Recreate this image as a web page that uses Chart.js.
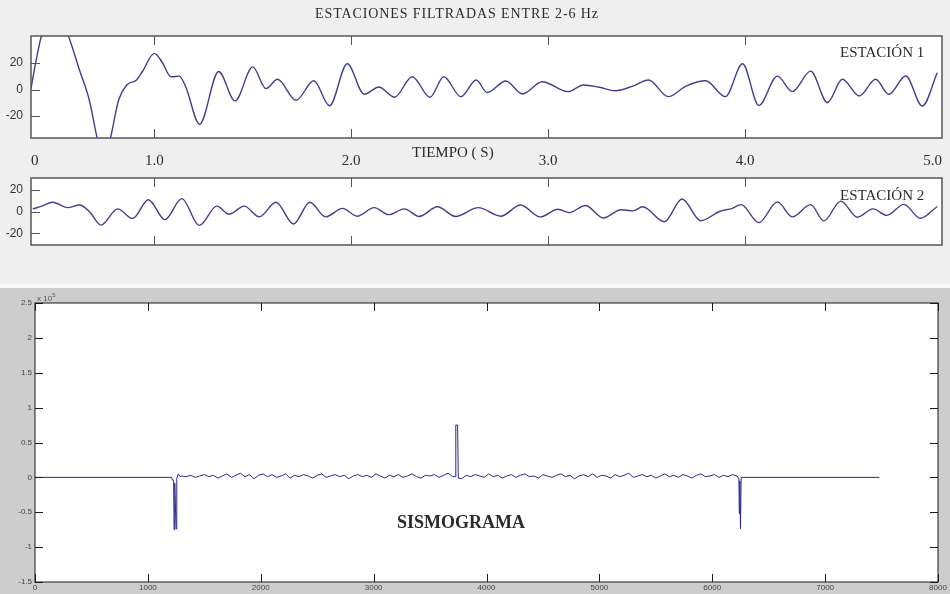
<!DOCTYPE html>
<html>
<head>
<meta charset="utf-8">
<script src="https://cdn.jsdelivr.net/npm/chart.js@4.4.1/dist/chart.umd.min.js"></script>
<style>
  html, body { margin: 0; padding: 0; }
  body { width: 950px; height: 594px; position: relative; overflow: hidden; background: #efefef; }
  canvas { position: absolute; left: 0; }
  .txt { position: absolute; white-space: nowrap; color: #2b2b2b; font-family: "Liberation Serif", "Times New Roman", serif; line-height: 1; z-index: 5; }
  #gap { position: absolute; left: 0; top: 284px; width: 950px; height: 4px; background: #fafafa; }
  #matlab { position: absolute; left: 0; top: 288px; width: 950px; height: 306px; background: #cdcdcd; }
</style>
</head>
<body>
<div id="gap"></div>
<div id="matlab"></div>
<canvas id="est1" width="950" height="176" style="top:0"></canvas>
<canvas id="est2" width="950" height="120" style="top:170px"></canvas>
<canvas id="sismo" width="950" height="306" style="top:288px"></canvas>

<div class="txt" style="left:315px; top:7px; font-size:14px; letter-spacing:0.9px;">ESTACIONES FILTRADAS ENTRE 2-6 Hz</div>
<div class="txt" style="left:840px; top:45px; font-size:15px;">ESTACIÓN 1</div>
<div class="txt" style="left:412px; top:145px; font-size:15px;">TIEMPO ( S)</div>
<div class="txt" style="left:840px; top:188px; font-size:15px;">ESTACIÓN 2</div>
<div class="txt" style="left:397px; top:513px; font-size:18px; font-weight:bold;">SISMOGRAMA</div>
<div class="txt" style="left:37px; top:292px; font-size:8px; color:#555; font-family:'Liberation Sans', sans-serif;">x 10<sup style="font-size:6px">5</sup></div>

<script>
// station 1, filtered 2-6 Hz (time in s, amplitude)
const est1Time = [0.374, 0.40, 0.43, 0.50, 0.56, 0.62, 0.67, 0.71, 0.745, 0.777, 0.82, 0.86, 0.91, 0.94,
  1.0, 1.04, 1.085, 1.127, 1.16, 1.23, 1.327, 1.41, 1.5, 1.567, 1.626, 1.72, 1.81, 1.89, 1.98,
  2.066, 2.14, 2.22, 2.31, 2.40, 2.47, 2.557, 2.635, 2.69, 2.785, 2.87, 2.97, 3.1, 3.18, 3.26,
  3.34, 3.43, 3.51, 3.61, 3.70, 3.80, 3.90, 3.987, 4.07, 4.164, 4.24, 4.333, 4.418, 4.494,
  4.58, 4.663, 4.73, 4.816, 4.90, 4.976];
const est1Amp = [0.7, 22, 42, 60, 42, 14.8, -7.9, -36.6, -55, -37, -7.5, 3.4, 7.2, 13.6,
  27.3, 20.6, 9.6, 10.1, 1.9, -26.2, 13.6, -8.6, 17.1, 0.7, 7.7, -8.1, 6.6, -12.2, 19.4,
  -3.6, 1.9, -5.8, 9.6, -5.8, 9.6, -5.4, 7.2, -2.3, 6.4, -3.4, 5.9, -1.6, 3.4, 1.7,
  -0.9, 2.6, 7.2, -5.4, 2.6, 6.6, -5.4, 19.4, -12, 10.1, -1.6, 13.9, -9.8, 7.7,
  -4.9, 7.7, -3.6, 10.2, -12.5, 12.7];

// station 2, filtered 2-6 Hz
const est2Time = [0.383, 0.43, 0.484, 0.56, 0.62, 0.67, 0.73, 0.814, 0.89, 0.97, 1.054, 1.14,
  1.228, 1.318, 1.38, 1.457, 1.533, 1.618, 1.707, 1.79, 1.87, 1.956, 2.03, 2.117, 2.19, 2.27,
  2.345, 2.438, 2.53, 2.645, 2.76, 2.86, 2.96, 3.05, 3.107, 3.19, 3.28, 3.37, 3.43, 3.48,
  3.59, 3.68, 3.775, 3.87, 3.935, 3.98, 4.07, 4.164, 4.24, 4.333, 4.40, 4.486, 4.57, 4.65,
  4.72, 4.807, 4.89, 4.976];
const est2Amp = [2.4, 4.9, 8.4, 3.5, 5.9, 0, -12.4, 2.4, -6.3, 10.8, -7.4, 11.8,
  -12.7, 4.9, -2.4, 4.9, -4.9, 8.4, -11.4, 8.4, -4.9, 2.9, -4.3, 3.5, -2.9, 2.4,
  -4.5, 4.3, -4.5, 3.5, -4.3, 5.9, -4.9, 2, -1, 5.5, -5.9, 1.6, 0.6, 4.3,
  -9.4, 11.4, -8.4, 0, 2.9, 6.3, -10.2, 8.8, -4.9, 6.3, -8.6, 9.5, -5.2, 2.4,
  -3.5, 6.5, -6.2, 4.6];

const timeTicks = [0.374, 1, 2, 3, 4, 5];
const timeTickLabels = ['0', '1.0', '2.0', '3.0', '4.0', '5.0'];
const ampTicks = [-20, 0, 20];

// seismogram: events (sample, amplitude x10^5)
const sismoEventX = [0, 1210, 1218, 1228, 1232, 1238, 1250, 1256, 1270, 1285,
  3722, 3728, 3744, 3750, 6228, 6236, 6240, 6244, 6250, 6256, 6262, 7480];
const sismoEventY = [0, 0, -0.04, -0.04, -0.75, -0.08, -0.74, -0.02, 0.05, 0.01,
  0.01, 0.75, 0.75, -0.01, 0.02, -0.02, -0.52, -0.05, -0.74, 0.0, 0.0, 0];
// background noise between the events, one value every 40 samples from 1300
const noiseStart = 1300;
const noiseStep = 40;
const noiseValues = [
  0.02, 0.01, 0.03, 0.00, 0.02, 0.04, 0.01, 0.03, -0.01, 0.02,
  0.05, 0.00, 0.03, 0.06, 0.01, 0.04, -0.02, 0.03, 0.05, 0.01,
  0.04, 0.00, 0.02, 0.05, -0.01, 0.03, 0.01, 0.04, 0.02, -0.01,
  0.03, 0.05, 0.00, 0.02, 0.04, 0.01, 0.03, -0.02, 0.02, 0.04,
  0.01, 0.03, 0.00, 0.05, 0.02, -0.01, 0.03, 0.01, 0.04, 0.00,
  0.02, 0.05, 0.01, -0.01, 0.03, 0.02, 0.04, 0.00, 0.03, 0.06,
  0.01, 0.02, -0.02, 0.03, 0.01, 0.04, 0.02, 0.00, 0.05, 0.01,
  0.03, -0.01, 0.02, 0.04, 0.00, 0.03, 0.05, 0.01, 0.02, -0.01,
  0.04, 0.02, 0.00, 0.03, 0.05, 0.01, 0.03, -0.02, 0.02, 0.04,
  0.01, 0.05, 0.00, 0.03, 0.02, -0.01, 0.04, 0.01, 0.03, 0.06,
  0.00, 0.02, 0.04, 0.01, 0.03, -0.01, 0.02, 0.05, 0.01, 0.03,
  0.00, 0.04, 0.02, -0.01, 0.03, 0.05, 0.01, 0.02, 0.04, 0.00,
  0.03, 0.01, 0.04, 0.02];
const sampleTicks = [0, 1000, 2000, 3000, 4000, 5000, 6000, 7000, 8000];
const sismoTicks = [-1.5, -1, -0.5, 0, 0.5, 1, 1.5, 2, 2.5];

// white plot area, box frame and inward tick marks
const frameTicks = {
  id: 'frameTicks',
  beforeDraw(chart, args, opts) {
    const { ctx, chartArea: a } = chart;
    ctx.save();
    ctx.fillStyle = '#ffffff';
    ctx.fillRect(a.left, a.top, a.right - a.left, a.bottom - a.top);
    ctx.restore();
  },
  afterDraw(chart, args, opts) {
    const { ctx, chartArea: a, scales } = chart;
    ctx.save();
    ctx.strokeStyle = opts.color;
    ctx.lineWidth = opts.width;
    ctx.strokeRect(a.left, a.top, a.right - a.left, a.bottom - a.top);
    ctx.lineWidth = 1;
    ctx.beginPath();
    (opts.xTicks || []).forEach(v => {
      const x = Math.round(scales.x.getPixelForValue(v)) + 0.5;
      ctx.moveTo(x, a.top); ctx.lineTo(x, a.top + opts.len);
      ctx.moveTo(x, a.bottom); ctx.lineTo(x, a.bottom - opts.len);
    });
    (opts.yTicks || []).forEach(v => {
      const y = Math.round(scales.y.getPixelForValue(v)) + 0.5;
      ctx.moveTo(a.left, y); ctx.lineTo(a.left + opts.len, y);
      if (opts.right) { ctx.moveTo(a.right, y); ctx.lineTo(a.right - opts.len, y); }
    });
    ctx.stroke();
    ctx.restore();
  }
};

function stationChart(id, times, amps, yMin, yMax, showTime, pad) {
  const pts = times.map((t, i) => ({ x: t, y: amps[i] }));
  return new Chart(document.getElementById(id), {
    type: 'line',
    data: {
      datasets: [{
        data: pts,
        borderColor: '#3f3f90',
        borderWidth: 1.4,
        pointRadius: 0,
        cubicInterpolationMode: 'monotone',
        fill: false
      }]
    },
    options: {
      responsive: false,
      animation: false,
      layout: { padding: pad },
      plugins: {
        legend: { display: false },
        tooltip: { enabled: false },
        frameTicks: { color: '#555555', width: 1.5, len: 9, xTicks: [1, 2, 3, 4], yTicks: ampTicks }
      },
      scales: {
        x: {
          type: 'linear',
          min: timeTicks[0],
          max: 5,
          display: showTime,
          grid: { display: false, drawTicks: false },
          border: { display: false },
          afterBuildTicks: s => { s.ticks = timeTicks.map(v => ({ value: v })); },
          afterFit: s => { s.height = 38; s.paddingLeft = 0; s.paddingRight = 0; },
          ticks: {
            autoSkip: false,
            maxRotation: 0,
            align: 'inner',
            padding: 14,
            color: '#2b2b2b',
            font: { family: 'Liberation Serif', size: 15 },
            callback: (v, i) => timeTickLabels[i]
          }
        },
        y: {
          min: yMin,
          max: yMax,
          grid: { display: false, drawTicks: false },
          border: { display: false },
          afterBuildTicks: s => { s.ticks = ampTicks.map(v => ({ value: v })); },
          afterFit: s => { s.width = 31; s.paddingTop = 0; s.paddingBottom = 0; },
          ticks: {
            padding: 8,
            color: '#333333',
            font: { family: 'Liberation Sans', size: 12 }
          }
        }
      }
    },
    plugins: [frameTicks]
  });
}

stationChart('est1', est1Time, est1Amp, -36.6, 40.4, true, { top: 36, right: 8, left: 0, bottom: 0 });
stationChart('est2', est2Time, est2Amp, -30.6, 30.6, false, { top: 8, right: 8, left: 0, bottom: 7 });

// seismogram series
const sismoPts = sismoEventX.map((x, i) => ({ x: x, y: sismoEventY[i] }));
noiseValues.forEach((v, i) => {
  const x = noiseStart + i * noiseStep;
  if (x < 3712 || x > 3760) sismoPts.push({ x: x, y: v });
});
sismoPts.sort((a, b) => a.x - b.x);

new Chart(document.getElementById('sismo'), {
  type: 'line',
  data: {
    datasets: [{
      data: sismoPts,
      borderColor: '#2a2a8c',
      borderWidth: 1,
      pointRadius: 0,
      tension: 0,
      fill: false
    }]
  },
  options: {
    responsive: false,
    animation: false,
    layout: { padding: { top: 15, right: 12, left: 0, bottom: 0 } },
    plugins: {
      legend: { display: false },
      tooltip: { enabled: false },
      frameTicks: { color: '#1a1a1a', width: 1, len: 8, right: true, xTicks: sampleTicks, yTicks: sismoTicks }
    },
    scales: {
      x: {
        type: 'linear',
        min: 0,
        max: 8000,
        grid: { display: false, drawTicks: false },
        border: { display: false },
        afterBuildTicks: s => { s.ticks = sampleTicks.map(v => ({ value: v })); },
        afterFit: s => { s.height = 12; s.paddingLeft = 0; s.paddingRight = 0; },
        ticks: {
          autoSkip: false,
          maxRotation: 0,
          padding: 1,
          color: '#444444',
          font: { family: 'Liberation Sans', size: 8 },
          callback: v => String(v)
        }
      },
      y: {
        min: -1.5,
        max: 2.5,
        grid: { display: false, drawTicks: false },
        border: { display: false },
        afterBuildTicks: s => { s.ticks = sismoTicks.map(v => ({ value: v })); },
        afterFit: s => { s.width = 35; s.paddingTop = 0; s.paddingBottom = 0; },
        ticks: {
          padding: 3,
          color: '#444444',
          font: { family: 'Liberation Sans', size: 8 },
          callback: v => String(v)
        }
      }
    }
  },
  plugins: [frameTicks]
});
</script>
</body>
</html>
